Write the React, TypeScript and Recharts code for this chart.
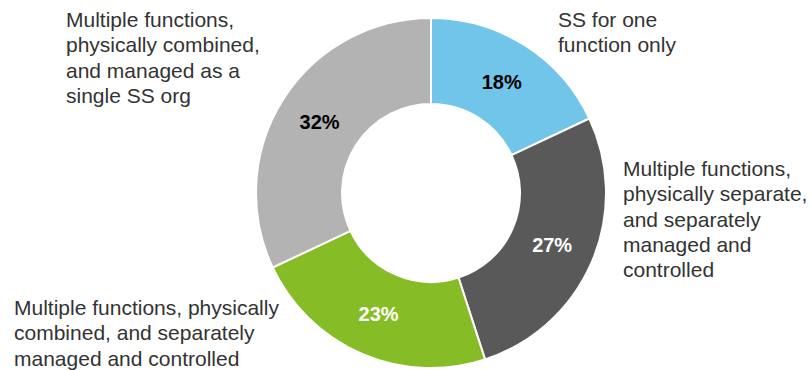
import { Cell, Pie, PieChart } from 'recharts';

const categories = [
  'SS for one function only',
  'Multiple functions, physically separate, and separately managed and controlled',
  'Multiple functions, physically combined, and separately managed and controlled',
  'Multiple functions, physically combined, and managed as a single SS org',
];
const shares = [18, 27, 23, 32];
// wrapped lines for each category label, same order as categories
const labelLines = [
  ['SS for one', 'function only'],
  ['Multiple functions,', 'physically separate,', 'and separately', 'managed and', 'controlled'],
  ['Multiple functions, physically', 'combined, and separately', 'managed and controlled'],
  ['Multiple functions,', 'physically combined,', 'and managed as a', 'single SS org'],
];

const colors = ['#71c5e8', '#595959', '#86bc25', '#b3b3b3'];
const pctColors = ['#000000', '#ffffff', '#ffffff', '#000000'];
// where each category text block starts (first baseline)
const labelPos = [
  { x: 558, y: 27 },
  { x: 623, y: 176 },
  { x: 14, y: 315 },
  { x: 66, y: 27 },
];

const data = categories.map((name, i) => ({ name, value: shares[i] }));

const RADIAN = Math.PI / 180;
const LINE_H = 25.3;
const FONT = "'Liberation Sans', Arial, sans-serif";

const renderLabel = (props: any) => {
  const { cx, cy, midAngle, innerRadius, outerRadius, index, value } = props;
  const r = (innerRadius + outerRadius) / 2;
  const x = cx + r * Math.cos(-midAngle * RADIAN);
  const y = cy + r * Math.sin(-midAngle * RADIAN);
  const pos = labelPos[index];
  return (
    <g key={`lbl-${index}`}>
      <text
        x={x}
        y={y}
        textAnchor="middle"
        dominantBaseline="central"
        fill={pctColors[index]}
        fontSize={20}
        fontWeight="bold"
        fontFamily={FONT}
      >
        {`${value}%`}
      </text>
      <text x={pos.x} y={pos.y} fill="#333333" fontSize={21} fontFamily={FONT}>
        {labelLines[index].map((line, j) => (
          <tspan key={j} x={pos.x} y={pos.y + j * LINE_H}>
            {line}
          </tspan>
        ))}
      </text>
    </g>
  );
};

export default function App() {
  return (
    <div style={{ position: 'absolute', left: 0, top: 0, width: 812, height: 370, background: '#fff' }}>
      <PieChart width={812} height={370}>
        <Pie
          data={data}
          dataKey="value"
          nameKey="name"
          cx={426}
          cy={188}
          innerRadius={89}
          outerRadius={175}
          startAngle={90}
          endAngle={-270}
          stroke="#ffffff"
          strokeWidth={2}
          label={renderLabel}
          labelLine={false}
          isAnimationActive={false}
        >
          {data.map((d, i) => (
            <Cell key={d.name} fill={colors[i]} />
          ))}
        </Pie>
      </PieChart>
    </div>
  );
}
